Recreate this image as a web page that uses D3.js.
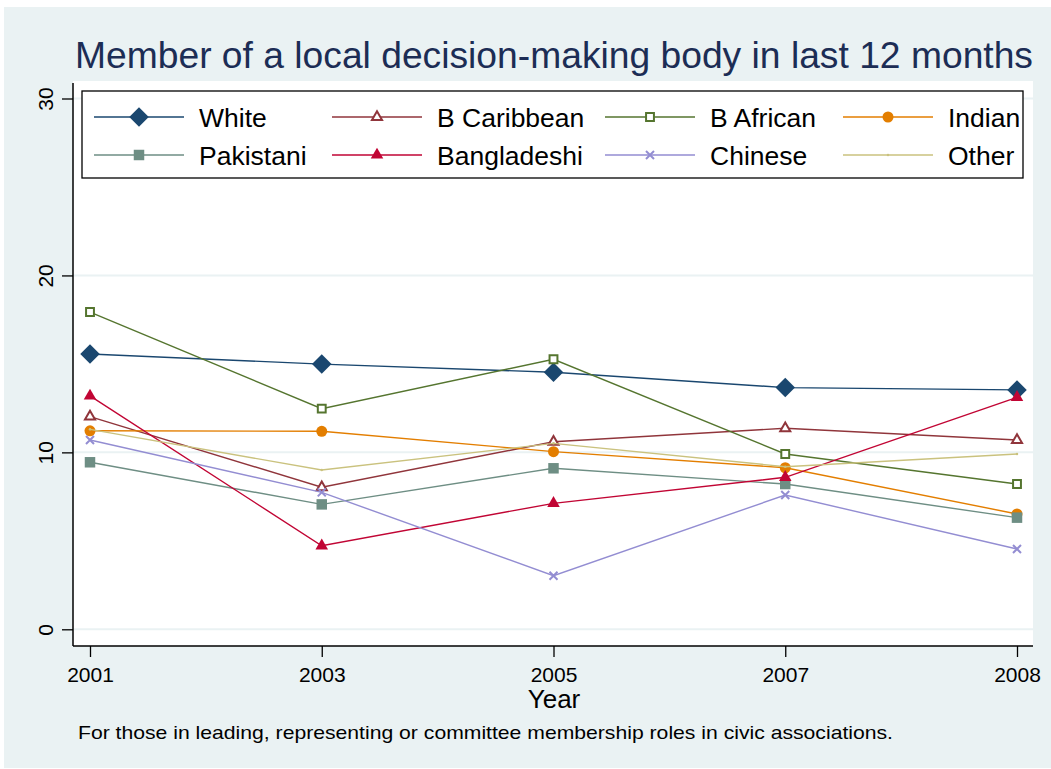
<!DOCTYPE html>
<html>
<head>
<meta charset="utf-8">
<script src="https://cdn.jsdelivr.net/npm/d3@7"></script>
<style>
  body { margin: 0; background: #ffffff; }
  svg { display: block; font-family: "Liberation Sans", Arial, sans-serif; }
</style>
</head>
<body>
<div id="wrapper"></div>
<script>
const years = ["2001", "2003", "2005", "2007", "2008"];
const yTicks = [0, 10, 20, 30];

const white = [15.56, 14.99, 14.53, 13.66, 13.53];
const bCaribbean = [12.02, 8.03, 10.60, 11.36, 10.70];
const bAfrican = [17.93, 12.47, 15.26, 9.91, 8.21];
const indian = [11.22, 11.19, 10.04, 9.13, 6.52];
const pakistani = [9.44, 7.06, 9.10, 8.21, 6.31];
const bangladeshi = [13.19, 4.72, 7.12, 8.59, 13.11];
const chinese = [10.70, 7.74, 3.03, 7.59, 4.54];
const other = [11.30, 9.00, 10.51, 9.19, 9.91];

const seriesNames = ["White", "B Caribbean", "B African", "Indian", "Pakistani", "Bangladeshi", "Chinese", "Other"];

// stata s2color look
const series = [
  { name: "White", values: white, color: "#1a476f", marker: "diamond" },
  { name: "B Caribbean", values: bCaribbean, color: "#90353b", marker: "triangleHollow" },
  { name: "B African", values: bAfrican, color: "#55752f", marker: "squareHollow" },
  { name: "Indian", values: indian, color: "#e37e00", marker: "circle" },
  { name: "Pakistani", values: pakistani, color: "#6e8e84", marker: "square" },
  { name: "Bangladeshi", values: bangladeshi, color: "#c10534", marker: "triangle" },
  { name: "Chinese", values: chinese, color: "#938dd2", marker: "x" },
  { name: "Other", values: other, color: "#cac27e", marker: "point" },
];

const dimensions = {
  width: 1051,
  height: 769,
  plot: { left: 73, top: 81, right: 1033, bottom: 646 },
};

const svg = d3.select("#wrapper").append("svg")
  .attr("width", dimensions.width)
  .attr("height", dimensions.height);

// outer background
svg.append("rect")
  .attr("x", 4).attr("y", 7)
  .attr("width", dimensions.width - 4).attr("height", 761)
  .attr("fill", "#eaf2f3");

const p = dimensions.plot;
svg.append("rect")
  .attr("x", p.left).attr("y", p.top)
  .attr("width", p.right - p.left).attr("height", p.bottom - p.top)
  .attr("fill", "#ffffff");

const xScale = d3.scalePoint()
  .domain(years)
  .range([90, 1017]);

const yScale = d3.scaleLinear()
  .domain([0, 30])
  .range([629.3, 98.5]);

// gridlines
svg.append("g")
  .selectAll("line")
  .data(yTicks)
  .join("line")
  .attr("x1", p.left).attr("x2", p.right)
  .attr("y1", d => yScale(d)).attr("y2", d => yScale(d))
  .attr("stroke", "#eaf2f3")
  .attr("stroke-width", 2);

// axes
const yAxis = svg.append("g")
  .attr("transform", `translate(${p.left},0)`)
  .call(d3.axisLeft(yScale).tickValues(yTicks).tickSize(11).tickSizeOuter(0).tickFormat(d3.format("d")));
yAxis.select(".domain").remove();
yAxis.selectAll(".tick line").attr("stroke", "#000").attr("stroke-width", 1.3);
yAxis.selectAll(".tick text")
  .attr("transform", "rotate(-90)")
  .attr("x", 0).attr("y", -20).attr("dy", null)
  .attr("text-anchor", "middle")
  .attr("font-size", 21)
  .attr("font-family", "Liberation Sans, Arial, sans-serif")
  .attr("fill", "#000");

const xAxis = svg.append("g")
  .attr("transform", `translate(0,${p.bottom})`)
  .call(d3.axisBottom(xScale).tickSize(11).tickSizeOuter(0));
xAxis.select(".domain").remove();
xAxis.selectAll(".tick line").attr("stroke", "#000").attr("stroke-width", 1.3);
xAxis.selectAll(".tick text")
  .attr("y", 36).attr("dy", null)
  .attr("font-size", 21)
  .attr("font-family", "Liberation Sans, Arial, sans-serif")
  .attr("fill", "#000");

svg.append("line")
  .attr("x1", p.left).attr("x2", p.left)
  .attr("y1", p.top + 2).attr("y2", p.bottom)
  .attr("stroke", "#000").attr("stroke-width", 1.5);
svg.append("line")
  .attr("x1", p.left).attr("x2", p.right)
  .attr("y1", p.bottom).attr("y2", p.bottom)
  .attr("stroke", "#000").attr("stroke-width", 1.5);

// markers
function markerPath(type) {
  switch (type) {
    case "diamond": return d3.symbol(d3.symbolSquare, 190)();
    case "triangle": return d3.symbol(d3.symbolTriangle, 68)();
    case "triangleHollow": return d3.symbol(d3.symbolTriangle, 44)();
    case "square": return d3.symbol(d3.symbolSquare, 110)();
    case "squareHollow": return d3.symbol(d3.symbolSquare, 62)();
    case "circle": return d3.symbol(d3.symbolCircle, 95)();
    case "x": return "M-4,-4L4,4M-4,4L4,-4";
    case "point": return d3.symbol(d3.symbolCircle, 5)();
  }
}

function drawMarker(sel, s) {
  const hollow = s.marker === "triangleHollow" || s.marker === "squareHollow";
  sel.attr("d", markerPath(s.marker))
    .attr("fill", s.marker === "x" ? "none" : (hollow ? "#ffffff" : s.color))
    .attr("stroke", (hollow || s.marker === "x") ? s.color : "none")
    .attr("stroke-width", 2)
    .attr("transform", function () {
      const t = d3.select(this).attr("data-t");
      return s.marker === "diamond" ? t + " rotate(45)" : t;
    });
}

const lineGen = d3.line()
  .x((d, i) => xScale(years[i]))
  .y(d => yScale(d));

series.forEach(s => {
  const g = svg.append("g");
  g.append("path")
    .attr("d", lineGen(s.values))
    .attr("fill", "none")
    .attr("stroke", s.color)
    .attr("stroke-width", 1.4);
  g.selectAll("path.m")
    .data(s.values)
    .join("path")
    .attr("class", "m")
    .attr("data-t", (d, i) => `translate(${xScale(years[i])},${yScale(d)})`)
    .call(drawMarker, s);
});

// legend
svg.append("rect")
  .attr("x", 82).attr("y", 91)
  .attr("width", 941).attr("height", 87)
  .attr("fill", "#ffffff")
  .attr("stroke", "#000")
  .attr("stroke-width", 1.3);

const legendCols = [94, 332, 605, 843];
const legendRows = [117, 155];

series.forEach((s, i) => {
  const cx = legendCols[i % 4];
  const cy = legendRows[Math.floor(i / 4)];
  const g = svg.append("g");
  g.append("line")
    .attr("x1", cx).attr("x2", cx + 90)
    .attr("y1", cy).attr("y2", cy)
    .attr("stroke", s.color).attr("stroke-width", 1.4);
  g.append("path")
    .attr("data-t", `translate(${cx + 45},${cy})`)
    .call(drawMarker, s);
  g.append("text")
    .attr("x", cx + 105).attr("y", cy + 9.5)
    .attr("font-size", 26.5)
    .attr("fill", "#000")
    .text(seriesNames[i]);
});

// titles
svg.append("text")
  .attr("x", 554).attr("y", 68)
  .attr("text-anchor", "middle")
  .attr("font-size", 36)
  .attr("textLength", 958)
  .attr("lengthAdjust", "spacingAndGlyphs")
  .attr("fill", "#1c2d55")
  .text("Member of a local decision-making body in last 12 months");

svg.append("text")
  .attr("x", 554).attr("y", 708)
  .attr("text-anchor", "middle")
  .attr("font-size", 26)
  .attr("fill", "#000")
  .text("Year");

svg.append("text")
  .attr("x", 78).attr("y", 739)
  .attr("font-size", 18.5)
  .attr("textLength", 815)
  .attr("lengthAdjust", "spacingAndGlyphs")
  .attr("fill", "#000")
  .text("For those in leading, representing or committee membership roles in civic associations.");
</script>
</body>
</html>
